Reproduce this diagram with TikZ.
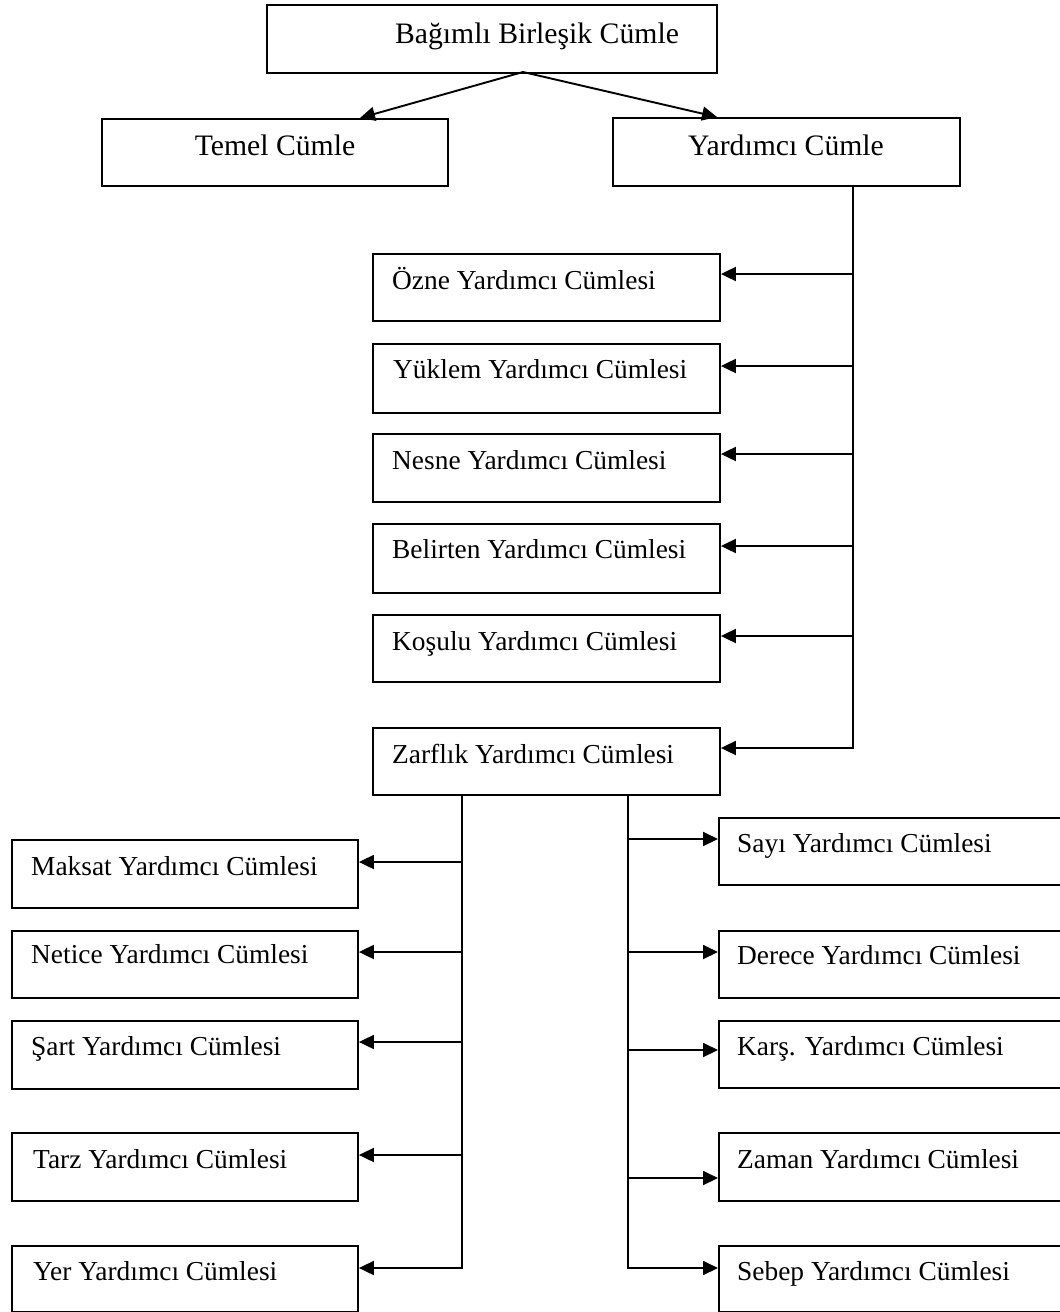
\documentclass[tikz,border=0pt]{standalone}
\usepackage{fontspec}
\setmainfont{Liberation Serif}
\usetikzlibrary{arrows.meta}
% box: name, left, top, width, height
\newcommand\cbox[5]{\node[frame, minimum width=#4pt, minimum height=#5pt] (#1) at (#2,#3) {};}
\begin{document}
\begin{tikzpicture}[x=1pt,y=-1pt,
  frame/.style={draw=black, line width=1.9pt, rectangle, inner sep=0pt, anchor=north west},
  lbl/.style={inner sep=0pt, anchor=base west, font=\fontsize{27.4}{32}\selectfont},
  biglbl/.style={inner sep=0pt, anchor=base, font=\fontsize{29.7}{35}\selectfont},
  link/.style={line width=1.9pt, line join=miter},
  arr/.style={link, -{Triangle[length=15pt,width=14pt]}}]
\useasboundingbox (0,0) rectangle (1060,1312);

% upper level
\cbox{root}{266}{4}{450}{68}
\cbox{temel}{101}{118}{346}{67}
\cbox{yard}{612}{117}{347}{68}
\node[biglbl] (rootT) at (537,43) {Bağımlı Birleşik Cümle};
\node[biglbl] (temelT) at (275,155) {Temel Cümle};
\node[biglbl] (yardT) at (786,155) {Yardımcı Cümle};

% kinds of subordinate clause
\cbox{ozne}{372}{253}{347}{67}
\cbox{yuklem}{372}{343}{347}{69}
\cbox{nesne}{372}{433}{347}{68}
\cbox{belirten}{372}{523}{347}{69}
\cbox{kosulu}{372}{614}{347}{67}
\cbox{zarflik}{372}{727}{347}{67}
\node[lbl] (ozneT) at (392,289) {Özne Yardımcı Cümlesi};
\node[lbl] (yuklemT) at (393,378) {Yüklem Yardımcı Cümlesi};
\node[lbl] (nesneT) at (392,469) {Nesne Yardımcı Cümlesi};
\node[lbl] (belirtenT) at (392,558) {Belirten Yardımcı Cümlesi};
\node[lbl] (kosuluT) at (392,650) {Koşulu Yardımcı Cümlesi};
\node[lbl] (zarflikT) at (392,763) {Zarflık Yardımcı Cümlesi};

% adverbial clauses, left column
\cbox{maksat}{11}{839}{346}{68}
\cbox{netice}{11}{930}{346}{67}
\cbox{sart}{11}{1020}{346}{68}
\cbox{tarz}{11}{1132}{346}{68}
\cbox{yer}{11}{1245}{346}{66}
\node[lbl] (maksatT) at (31,875) {Maksat Yardımcı Cümlesi};
\node[lbl] (neticeT) at (31,963) {Netice Yardımcı Cümlesi};
\node[lbl] (sartT) at (31,1055) {Şart Yardımcı Cümlesi};
\node[lbl] (tarzT) at (33,1168) {Tarz Yardımcı Cümlesi};
\node[lbl] (yerT) at (33,1280) {Yer Yardımcı Cümlesi};

% adverbial clauses, right column
\cbox{sayi}{718}{817}{350}{67}
\cbox{derece}{718}{930}{350}{67}
\cbox{kars}{718}{1020}{350}{67}
\cbox{zaman}{718}{1132}{350}{68}
\cbox{sebep}{718}{1245}{350}{66}
\node[lbl] (sayiT) at (737,852) {Sayı Yardımcı Cümlesi};
\node[lbl] (dereceT) at (737,964) {Derece Yardımcı Cümlesi};
\node[lbl] (karsT) at (737,1055) {Karş. Yardımcı Cümlesi};
\node[lbl] (zamanT) at (737,1168) {Zaman Yardımcı Cümlesi};
\node[lbl] (sebepT) at (737,1280) {Sebep Yardımcı Cümlesi};

% root splits into main and subordinate clause
\coordinate (split) at (523,72);
\coordinate (toTemel) at (360,118);
\coordinate (toYard) at (717,117);
\draw[arr] (split) -- (toTemel);
\draw[arr] (split) -- (toYard);

% trunk under Yardımcı Cümle
\coordinate (a0) at (853,185);
\coordinate (a1) at (853,274);
\coordinate (a2) at (853,366);
\coordinate (a3) at (853,454);
\coordinate (a4) at (853,546);
\coordinate (a5) at (853,636);
\coordinate (a6) at (853,748);
\draw[arr] (a0) -- (a6) -- (a6 -| zarflik.east);
\draw[arr] (a1) -- (a1 -| ozne.east);
\draw[arr] (a2) -- (a2 -| yuklem.east);
\draw[arr] (a3) -- (a3 -| nesne.east);
\draw[arr] (a4) -- (a4 -| belirten.east);
\draw[arr] (a5) -- (a5 -| kosulu.east);

% left trunk under Zarflık
\coordinate (b0) at (462,794);
\coordinate (b1) at (462,862);
\coordinate (b2) at (462,952);
\coordinate (b3) at (462,1042);
\coordinate (b4) at (462,1155);
\coordinate (b5) at (462,1268);
\draw[arr] (b0) -- (b5) -- (b5 -| yer.east);
\draw[arr] (b1) -- (b1 -| maksat.east);
\draw[arr] (b2) -- (b2 -| netice.east);
\draw[arr] (b3) -- (b3 -| sart.east);
\draw[arr] (b4) -- (b4 -| tarz.east);

% right trunk under Zarflık
\coordinate (c0) at (628,794);
\coordinate (c1) at (628,839);
\coordinate (c2) at (628,952);
\coordinate (c3) at (628,1050);
\coordinate (c4) at (628,1178);
\coordinate (c5) at (628,1268);
\draw[arr] (c0) -- (c5) -- (c5 -| sebep.west);
\draw[arr] (c1) -- (c1 -| sayi.west);
\draw[arr] (c2) -- (c2 -| derece.west);
\draw[arr] (c3) -- (c3 -| kars.west);
\draw[arr] (c4) -- (c4 -| zaman.west);
\end{tikzpicture}
\end{document}
